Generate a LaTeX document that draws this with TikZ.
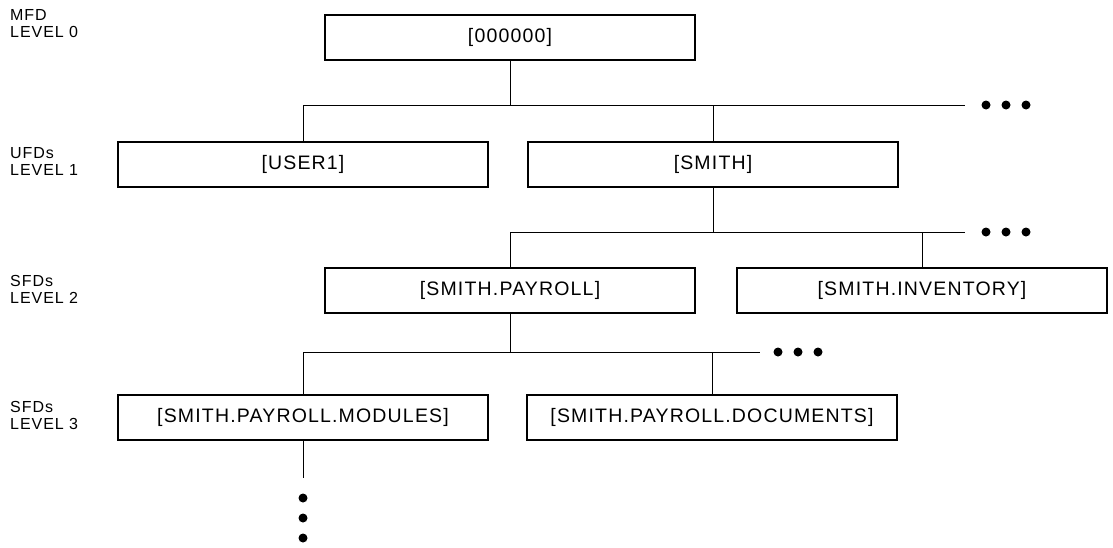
\documentclass[tikz,border=0pt]{standalone}
\usepackage{fontspec}
\setmainfont{Liberation Sans}[LetterSpace=6]
\begin{document}
\begin{tikzpicture}[x=1pt,y=-1pt,
  dirbox/.style={draw, line width=1.8pt, minimum width=370pt, minimum height=45pt, inner sep=0pt, font=\fontsize{19.5}{19.5}\selectfont},
  conn/.style={line width=0.8pt},
  lvl/.style={anchor=north west, align=left, inner sep=0pt, font=\fontsize{16}{17.5}\selectfont},
  dot/.style={circle, fill=black, minimum size=9pt, inner sep=0pt}]
\useasboundingbox (0,0) rectangle (1113,547);
% level labels
\node[lvl] (l0) at (10,9) {MFD\\LEVEL 0};
\node[lvl] (l1) at (10,147) {UFDs\\LEVEL 1};
\node[lvl] (l2) at (10,275) {SFDs\\LEVEL 2};
\node[lvl] (l3) at (10,401) {SFDs\\LEVEL 3};
% boxes
\node[dirbox] (mfd) at (510,37.5) {[000000]};
\node[dirbox] (user1) at (303,164.5) {[USER1]};
\node[dirbox] (smith) at (713,164.5) {[SMITH]};
\node[dirbox] (payroll) at (510,290.5) {[SMITH.PAYROLL]};
\node[dirbox] (inventory) at (922,290.5) {[SMITH.INVENTORY]};
\node[dirbox] (modules) at (303,417.5) {[SMITH.PAYROLL.MODULES]};
\node[dirbox] (documents) at (712,417.5) {[SMITH.PAYROLL.DOCUMENTS]};
% bus coordinates
\coordinate (b1) at (510,105);
\coordinate (b1end) at (965,105);
\coordinate (b2) at (713,232);
\coordinate (b2end) at (965,232);
\coordinate (b3) at (510,352);
\coordinate (b3end) at (760,352);
\coordinate (tail) at (303,478);
% dots
\node[dot] (d1a) at (986,105) {};
\node[dot] (d1b) at (1006,105) {};
\node[dot] (d1c) at (1026,105) {};
\node[dot] (d2a) at (986,232) {};
\node[dot] (d2b) at (1006,232) {};
\node[dot] (d2c) at (1026,232) {};
\node[dot] (d3a) at (778,352) {};
\node[dot] (d3b) at (798,352) {};
\node[dot] (d3c) at (818,352) {};
\node[dot] (d4a) at (303,498) {};
\node[dot] (d4b) at (303,518) {};
\node[dot] (d4c) at (303,538) {};
% connectors level 0 -> 1
\draw[conn] (mfd.south) -- (b1);
\draw[conn] (user1.north |- b1) -- (b1end);
\draw[conn] (user1.north |- b1) -- (user1.north);
\draw[conn] (smith.north |- b1) -- (smith.north);
% level 1 -> 2
\draw[conn] (smith.south) -- (b2);
\draw[conn] (payroll.north |- b2) -- (b2end);
\draw[conn] (payroll.north |- b2) -- (payroll.north);
\draw[conn] (inventory.north |- b2) -- (inventory.north);
% level 2 -> 3
\draw[conn] (payroll.south) -- (b3);
\draw[conn] (modules.north |- b3) -- (b3end);
\draw[conn] (modules.north |- b3) -- (modules.north);
\draw[conn] (documents.north |- b3) -- (documents.north);
% tail
\draw[conn] (modules.south) -- (tail);
\end{tikzpicture}
\end{document}
